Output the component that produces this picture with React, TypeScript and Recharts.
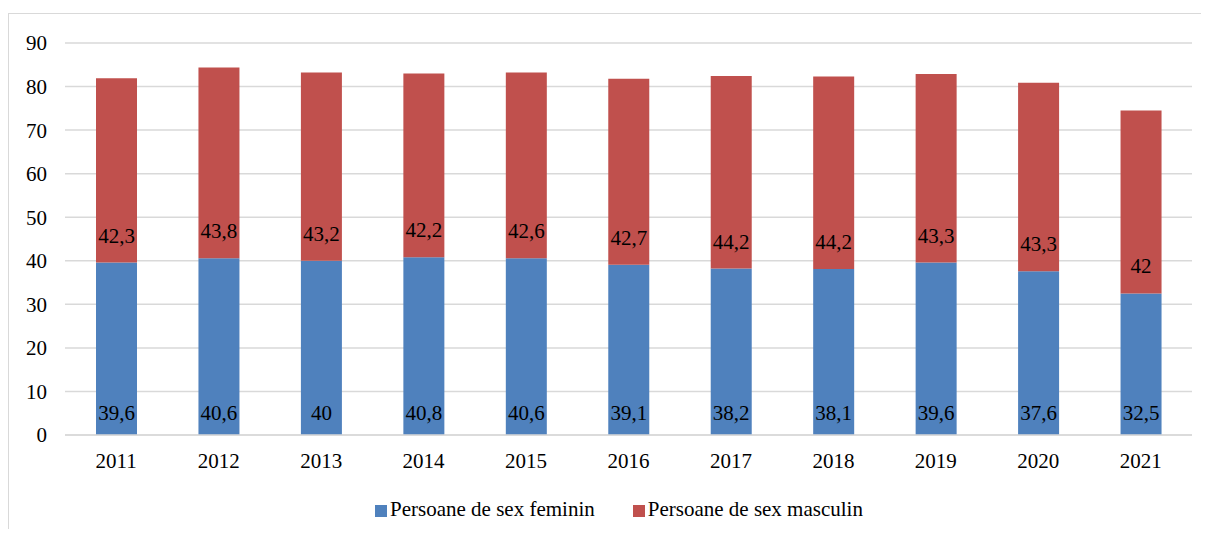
import React from "react";
import { BarChart, Bar, XAxis, YAxis, CartesianGrid, LabelList } from "recharts";

const years = ["2011", "2012", "2013", "2014", "2015", "2016", "2017", "2018", "2019", "2020", "2021"];
const feminin = [39.6, 40.6, 40, 40.8, 40.6, 39.1, 38.2, 38.1, 39.6, 37.6, 32.5];
const masculin = [42.3, 43.8, 43.2, 42.2, 42.6, 42.7, 44.2, 44.2, 43.3, 43.3, 42];
const yTicks = [0, 10, 20, 30, 40, 50, 60, 70, 80, 90];
const seriesNames = ["Persoane de sex feminin", "Persoane de sex masculin"];
const colors = ["#4F81BD", "#C0504D"];

const data = years.map((y, i) => ({ year: y, f: feminin[i], m: masculin[i] }));

const FONT = "Liberation Serif, Times New Roman, serif";
const fmt = (v: any) => String(v).replace(".", ",");

const makeLabel = (base: number) => (props: any) => {
  const { x, y, width, height, value } = props;
  return (
    <text
      x={Number(x) + Number(width) / 2}
      y={Number(y) + Number(height) - base}
      textAnchor="middle"
      style={{ fill: "#000", fontSize: 21, fontFamily: FONT }}
    >
      {fmt(value)}
    </text>
  );
};

export default function App() {
  return (
    <div style={{ paddingTop: 5, fontFamily: FONT }}>
      <div style={{ position: "relative", borderTop: "1px solid #d9d9d9", borderLeft: "1px solid #d9d9d9", width: 1200, height: 516, boxSizing: "border-box" }}>
        <BarChart width={1190} height={515} data={data} margin={{ top: 29, right: 7, bottom: 0, left: 0 }} barCategoryGap={0} style={{ fontFamily: FONT }}>
          <CartesianGrid vertical={false} stroke="#d9d9d9" strokeWidth={1.5} />
          <XAxis
            dataKey="year"
            axisLine={{ stroke: "#d9d9d9", strokeWidth: 1.5 }}
            tickLine={false}
            tickSize={0}
            tickMargin={18}
            height={94}
            tick={{ fill: "#000", fontSize: 21, fontFamily: FONT }}
          />
          <YAxis
            domain={[0, 90]}
            ticks={yTicks}
            interval={0}
            axisLine={false}
            tickLine={false}
            tickSize={0}
            tickMargin={18}
            width={56}
            tick={{ fill: "#000", fontSize: 21, fontFamily: FONT }}
          />
          <Bar dataKey="f" name={seriesNames[0]} stackId="a" fill={colors[0]} barSize={41} isAnimationActive={false}>
            <LabelList dataKey="f" content={makeLabel(15)} />
          </Bar>
          <Bar dataKey="m" name={seriesNames[1]} stackId="a" fill={colors[1]} barSize={41} isAnimationActive={false}>
            <LabelList dataKey="m" content={makeLabel(20)} />
          </Bar>
        </BarChart>
        <div style={{ position: "absolute", top: 483, left: 0, width: 1190, display: "flex", justifyContent: "center", fontFamily: FONT, fontSize: 21, color: "#000", paddingLeft: 30, boxSizing: "border-box" }}>
          {seriesNames.map((n, i) => (
            <div key={n} style={{ display: "flex", alignItems: "center", marginRight: i === 0 ? 38 : 0 }}>
              <span style={{ display: "inline-block", width: 12, height: 12, background: colors[i], marginRight: 3, marginTop: 2 }} />
              <span>{n}</span>
            </div>
          ))}
        </div>
      </div>
    </div>
  );
}
